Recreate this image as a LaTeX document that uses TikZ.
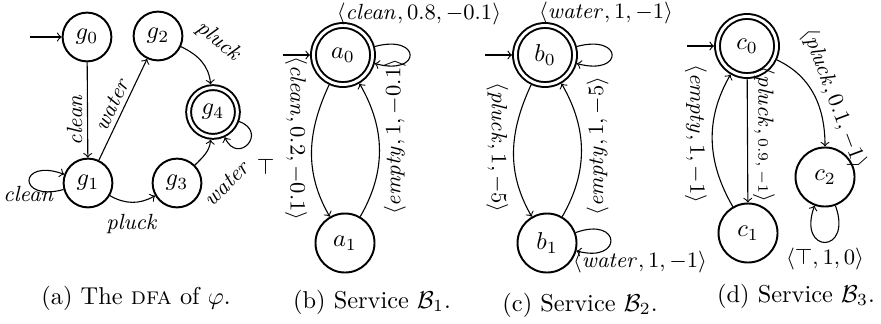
\documentclass[tikz,border=0pt]{standalone}
\begin{document}
\begin{tikzpicture}[x=0.41pt,y=0.41pt,
  state/.style={circle, draw, line width=0.8pt, minimum size=20pt, inner sep=0pt},
  bstate/.style={circle, draw, line width=0.8pt, minimum size=24.2pt, inner sep=0pt},
  acc/.style={double, double distance=1.2pt, outer sep=1.4pt},
  tr/.style={->, line width=0.45pt},
  lab/.style={font=\fontsize{8.6pt}{10pt}\selectfont, inner sep=2pt},
  captxt/.style={inner sep=0pt}]
\useasboundingbox (0,0) rectangle (881,323);

% (a) DFA
\node[state] (g0) at (87,286) {$g_0$};
\node[state] (g2) at (158,287) {$g_2$};
\node[state, acc] (g4) at (213,211) {$g_4$};
\node[state] (g1) at (88,140) {$g_1$};
\node[state] (g3) at (177,140) {$g_3$};
\coordinate (g0in) at (30,286);
\draw[tr] (g0in) -- (g0);
\draw[tr] (g0) -- node[lab, pos=0.6, rotate=90, anchor=south] {$\mathit{clean}$} (g1);
\draw[tr] (g1) -- node[lab, midway, sloped, above] {$\mathit{water}$} (g2);
\draw[tr] (g2) to[out=-25, in=95] (g4);
\node[lab, rotate=-40] (plab) at (219,281) {$\mathit{pluck}$};
\draw[tr] (g1) to[out=-30, in=-150] node[lab, below=2.6pt] {$\mathit{pluck}$} (g3);
\draw[tr] (g3) to[out=45, in=-95] (g4);
\node[lab, rotate=45] (wlab) at (227,140) {$\mathit{water}$};
\draw[tr] (g4) to[out=-20, in=-65, looseness=2, min distance=4.5mm] node[lab, pos=0.5, below right, inner sep=1pt, xshift=2.5pt, yshift=-5pt] {$\top$} (g4);
\draw[tr] (g1) to[out=195, in=160, looseness=2, min distance=7mm] node[lab, below] {$\mathit{clean}$} (g1);
\node[captxt] (capa) at (136,25) {(a) The \textsc{dfa} of $\varphi$.};

% (b) Service B1
\node[bstate, acc] (a0) at (343,268) {$a_0$};
\node[bstate] (a1) at (345,80) {$a_1$};
\coordinate (a0in) at (283,268);
\draw[tr] (a0in) -- (a0);
\draw[tr] (a0) to[out=15, in=-15, looseness=2, min distance=7mm] (a0);
\node[lab] (a0lab) at (419,309) {$\langle \mathit{clean}, 0.8, -0.1\rangle$};
\draw[tr] (a0) to[out=-115, in=120] node[lab, pos=0.4, rotate=-90, anchor=north] {$\langle \mathit{clean}, 0.2, -0.1\rangle$} (a1);
\draw[tr] (a1) to[out=60, in=-60] node[lab, pos=0.6, rotate=90, anchor=north] {$\langle \mathit{empty}, 1, -0.1\rangle$} (a0);
\node[captxt] (capb) at (372,21) {(b) Service $\mathcal{B}_1$.};

% (c) Service B2
\node[bstate, acc] (b0) at (545,268) {$b_0$};
\node[bstate] (b1) at (547,80) {$b_1$};
\coordinate (b0in) at (485,268);
\draw[tr] (b0in) -- (b0);
\draw[tr] (b0) to[out=15, in=-15, looseness=2, min distance=7mm] (b0);
\node[lab] (b0lab) at (606,310) {$\langle \mathit{water}, 1, -1\rangle$};
\draw[tr] (b0) to[out=-115, in=120] node[lab, pos=0.47, rotate=-90, anchor=north] {$\langle \mathit{pluck}, 1, -5\rangle$} (b1);
\draw[tr] (b1) to[out=60, in=-60] node[lab, pos=0.53, rotate=90, anchor=north] {$\langle \mathit{empty}, 1, -5\rangle$} (b0);
\draw[tr] (b1) to[out=20, in=-15, looseness=2, min distance=7mm] (b1);
\node[lab] (b1lab) at (640,61) {$\langle \mathit{water}, 1, -1\rangle$};
\node[captxt] (capc) at (580,18) {(c) Service $\mathcal{B}_2$.};

% (d) Service B3
\node[bstate, acc] (c0) at (747,277) {$c_0$};
\node[bstate] (c1) at (748,90) {$c_1$};
\node[bstate] (c2) at (825,146) {$c_2$};
\coordinate (c0in) at (687,277);
\draw[tr] (c0in) -- (c0);
\draw[tr] (c0) -- node[lab, pos=0.45, rotate=-90, anchor=south] {$\langle \mathit{pluck},{\scriptstyle 0.9,\,-1}\rangle$} (c1);
\draw[tr] (c1) to[out=120, in=-120] node[lab, pos=0.55, rotate=-90, anchor=north] {$\langle \mathit{empty}, 1, -1\rangle$} (c0);
\draw[tr] (c0) to[out=-25, in=90] node[lab, pos=0.6, sloped, above] {$\langle \mathit{pluck}, 0.1, -1\rangle$} (c2);
\draw[tr] (c2) to[out=-70, in=-110, looseness=2, min distance=7.5mm] node[lab, below] {$\langle \top, 1, 0\rangle$} (c2);
\node[captxt] (capd) at (796,27) {(d) Service $\mathcal{B}_3$.};
\end{tikzpicture}
\end{document}
